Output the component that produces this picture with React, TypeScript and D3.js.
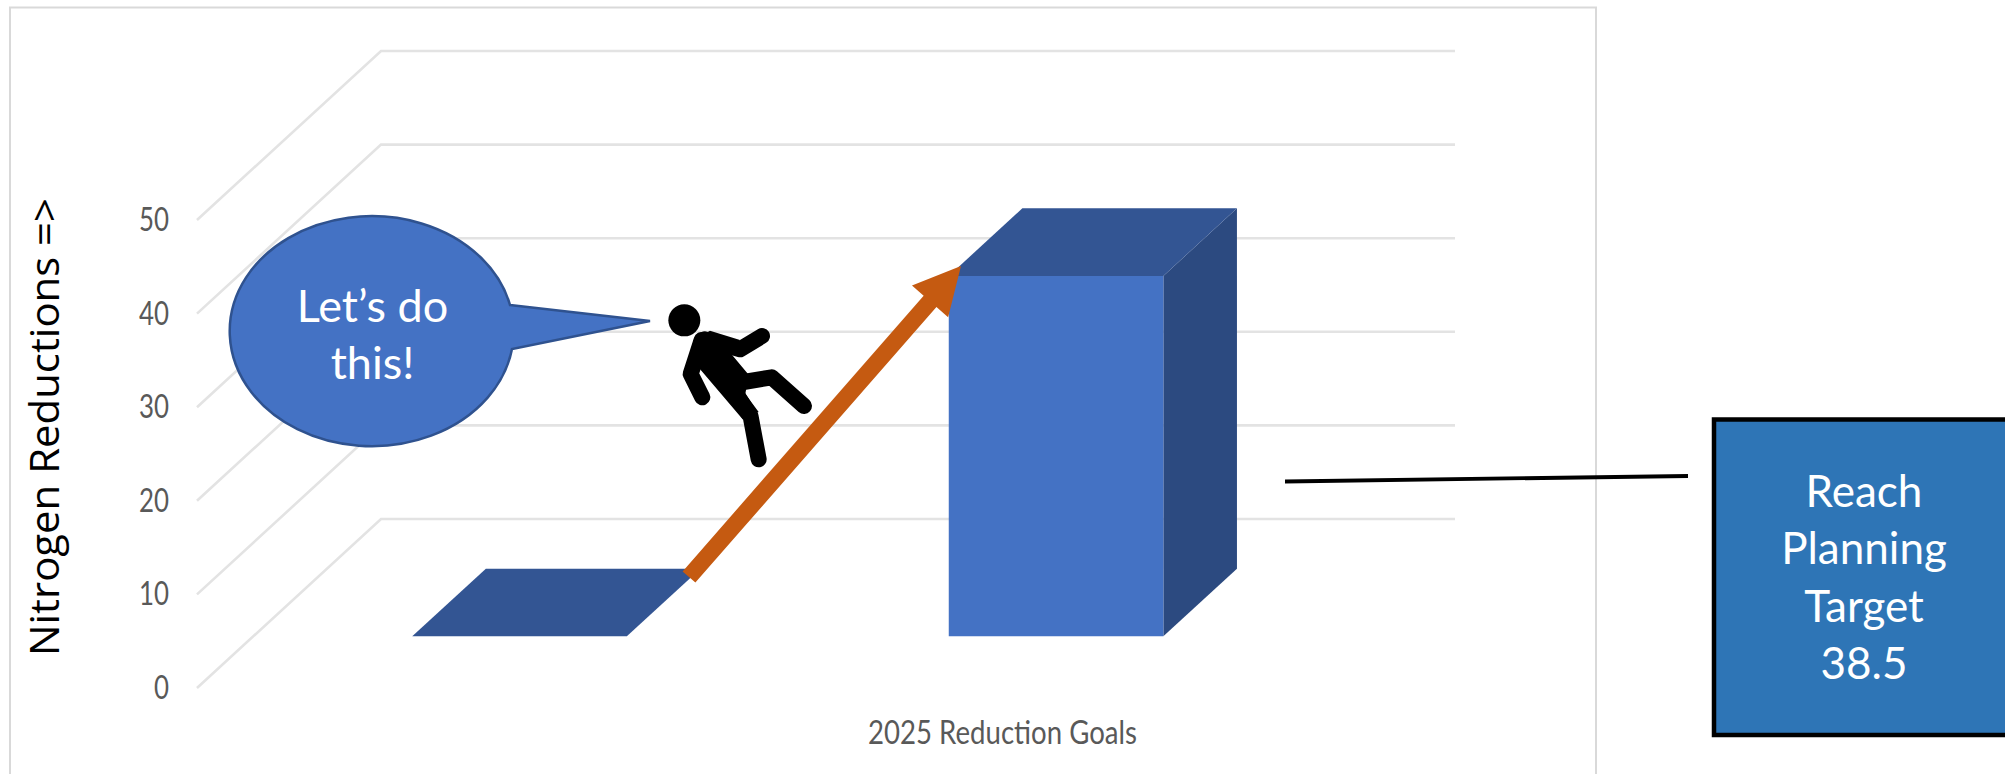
import * as d3 from "d3";
import React, { useRef, useEffect } from 'react'

const categories = ["Start", "2025"]
const reductions = [0, 38.5]
const gridValues = [0, 10, 20, 30, 40, 50]
const axisTitle = "Nitrogen Reductions =>"
const categoryTitle = "2025 Reduction Goals"
const calloutLines = ["Let’s do", "this!"]
const targetLines = ["Reach", "Planning", "Target", "38.5"]

const W = 2005
const H = 774
const labelFont = "Lato, sans-serif"

// front plane of the 3d chart, the back plane is this one pushed by depth
const x = d3.scaleBand<string>().domain(categories).range([195, 1268]).paddingInner(0.6).paddingOuter(0.3)
const y = d3.scaleLinear([0, 50], [688, 220])
const depthX = d3.scaleLinear([0, 1], [0, 184])
const depthY = d3.scaleLinear([0, 1], [0, -169])
const barFront = 0.306
const barBack = 0.706

type Pt = [number, number]
const line = d3.line<Pt>()
const at = (px: number, v: number, d: number): Pt => [px + depthX(d), y(v) + depthY(d)]
const poly = (pts: Pt[]) => line(pts) + "Z"

// arrow built from tail, tip and widths
const arrowTail: Pt = [689, 577]
const arrowTip: Pt = [961, 266]
const arrowPath = () => {
  const a = Math.atan2(arrowTip[1] - arrowTail[1], arrowTip[0] - arrowTail[0])
  const ux = Math.cos(a), uy = Math.sin(a)
  const nx = -uy, ny = ux
  const shaft = 8.5, head = 24, len = 47
  const p = (along: number, side: number): Pt => [arrowTip[0] - ux * along + nx * side, arrowTip[1] - uy * along + ny * side]
  return poly([
    [arrowTail[0] + nx * shaft, arrowTail[1] + ny * shaft],
    p(len, shaft), p(len, head), arrowTip, p(len, -head), p(len, -shaft),
    [arrowTail[0] - nx * shaft, arrowTail[1] - ny * shaft],
  ])
}

const App: React.FC = () => {
  const gy = useRef<SVGGElement>(null)

  useEffect(() => {
    if (!gy.current) return
    const g = d3.select(gy.current)
    g.call(d3.axisLeft(y).tickValues(gridValues).tickSize(0).tickPadding(0))
    g.select(".domain").remove()
    g.selectAll<SVGTextElement, number>("text")
      .attr("fill", "#595959")
      .attr("font-family", labelFont)
      .attr("font-size", 33)
      .attr("textLength", (d) => (d === 0 ? 15 : 30))
      .attr("lengthAdjust", "spacingAndGlyphs")
  }, [])

  const bw = x.bandwidth()

  return (
    <svg width={W} height={H} viewBox={`0 0 ${W} ${H}`} style={{ position: "absolute", left: 0, top: 0, display: "block", background: "#fff" }}>
      <path d="M10 774V7.5H1596V774" fill="none" stroke="#d9d9d9" strokeWidth={2} />

      {gridValues.map((v) => (
        <path key={v} d={line([at(197, v, 0), at(197, v, 1), [1455, y(v) + depthY(1)]]) || ""} fill="none" stroke="#e3e3e3" strokeWidth={2.6} />
      ))}
      <g ref={gy} transform="translate(169,0)" />

      {categories.map((c, i) => {
        const left = x(c) || 0
        const v = reductions[i]
        return (
          <g key={c}>
            <path d={poly([at(left + bw, 0, barFront), at(left + bw, 0, barBack), at(left + bw, v, barBack), at(left + bw, v, barFront)])} fill="#2c4a80" />
            <path d={poly([at(left, v, barFront), at(left + bw, v, barFront), at(left + bw, v, barBack), at(left, v, barBack)])} fill="#335593" />
            <path d={poly([at(left, 0, barFront), at(left + bw, 0, barFront), at(left + bw, v, barFront), at(left, v, barFront)])} fill="#4472c4" />
          </g>
        )
      })}

      <text x={1002.5} y={744} textAnchor="middle" fill="#595959" fontFamily={labelFont} fontSize={33} textLength={269} lengthAdjust="spacingAndGlyphs">{categoryTitle}</text>
      <text transform="translate(59,427) rotate(-90)" textAnchor="middle" fill="#000" fontFamily="'Open Sans', sans-serif" fontSize={40} textLength={458} lengthAdjust="spacingAndGlyphs">{axisTitle}</text>

      <path d={arrowPath()} fill="#c55a11" />

      {/* speech bubble */}
      <path d="M510 305L650 321L512 349A142 115 0 1 1 510 305Z" fill="#4472c4" stroke="#2f528f" strokeWidth={2.5} strokeLinejoin="miter" />
      {calloutLines.map((t, i) => (
        <text key={t} x={372.5} y={322 + i * 57} textAnchor="middle" fill="#fff" fontFamily={labelFont} fontSize={45}>{t}</text>
      ))}

      {/* falling figure, drawn in 3x crop units */}
      <g transform="translate(660,240) scale(0.3333)" fill="none" stroke="#000" strokeLinecap="round" strokeLinejoin="round">
        <circle cx={73} cy={241} r={48} fill="#000" stroke="none" />
        <path d="M125 300L92 402L127 472" strokeWidth={48} />
        <path d="M135 298L240 328L306 288" strokeWidth={48} />
        <path d="M215 432L335 412L432 498" strokeWidth={48} />
        <path d="M215 440L272 530L296 658" strokeWidth={48} />
        <path d="M100 300L150 272L240 300L212 340L266 404L256 462L296 516L248 538L114 380Z" fill="#000" stroke="none" />
      </g>

      <path d="M1285 481.5L1688 476" fill="none" stroke="#000" strokeWidth={3.8} />
      <rect x={1714} y={419.5} width={320} height={315.5} fill="#2e75b6" stroke="#000" strokeWidth={4.5} />
      {targetLines.map((t, i) => (
        <text key={t} x={1864} y={507 + i * 57.4} textAnchor="middle" fill="#fff" fontFamily={labelFont} fontSize={44}>{t}</text>
      ))}
    </svg>
  )
}

export default App
